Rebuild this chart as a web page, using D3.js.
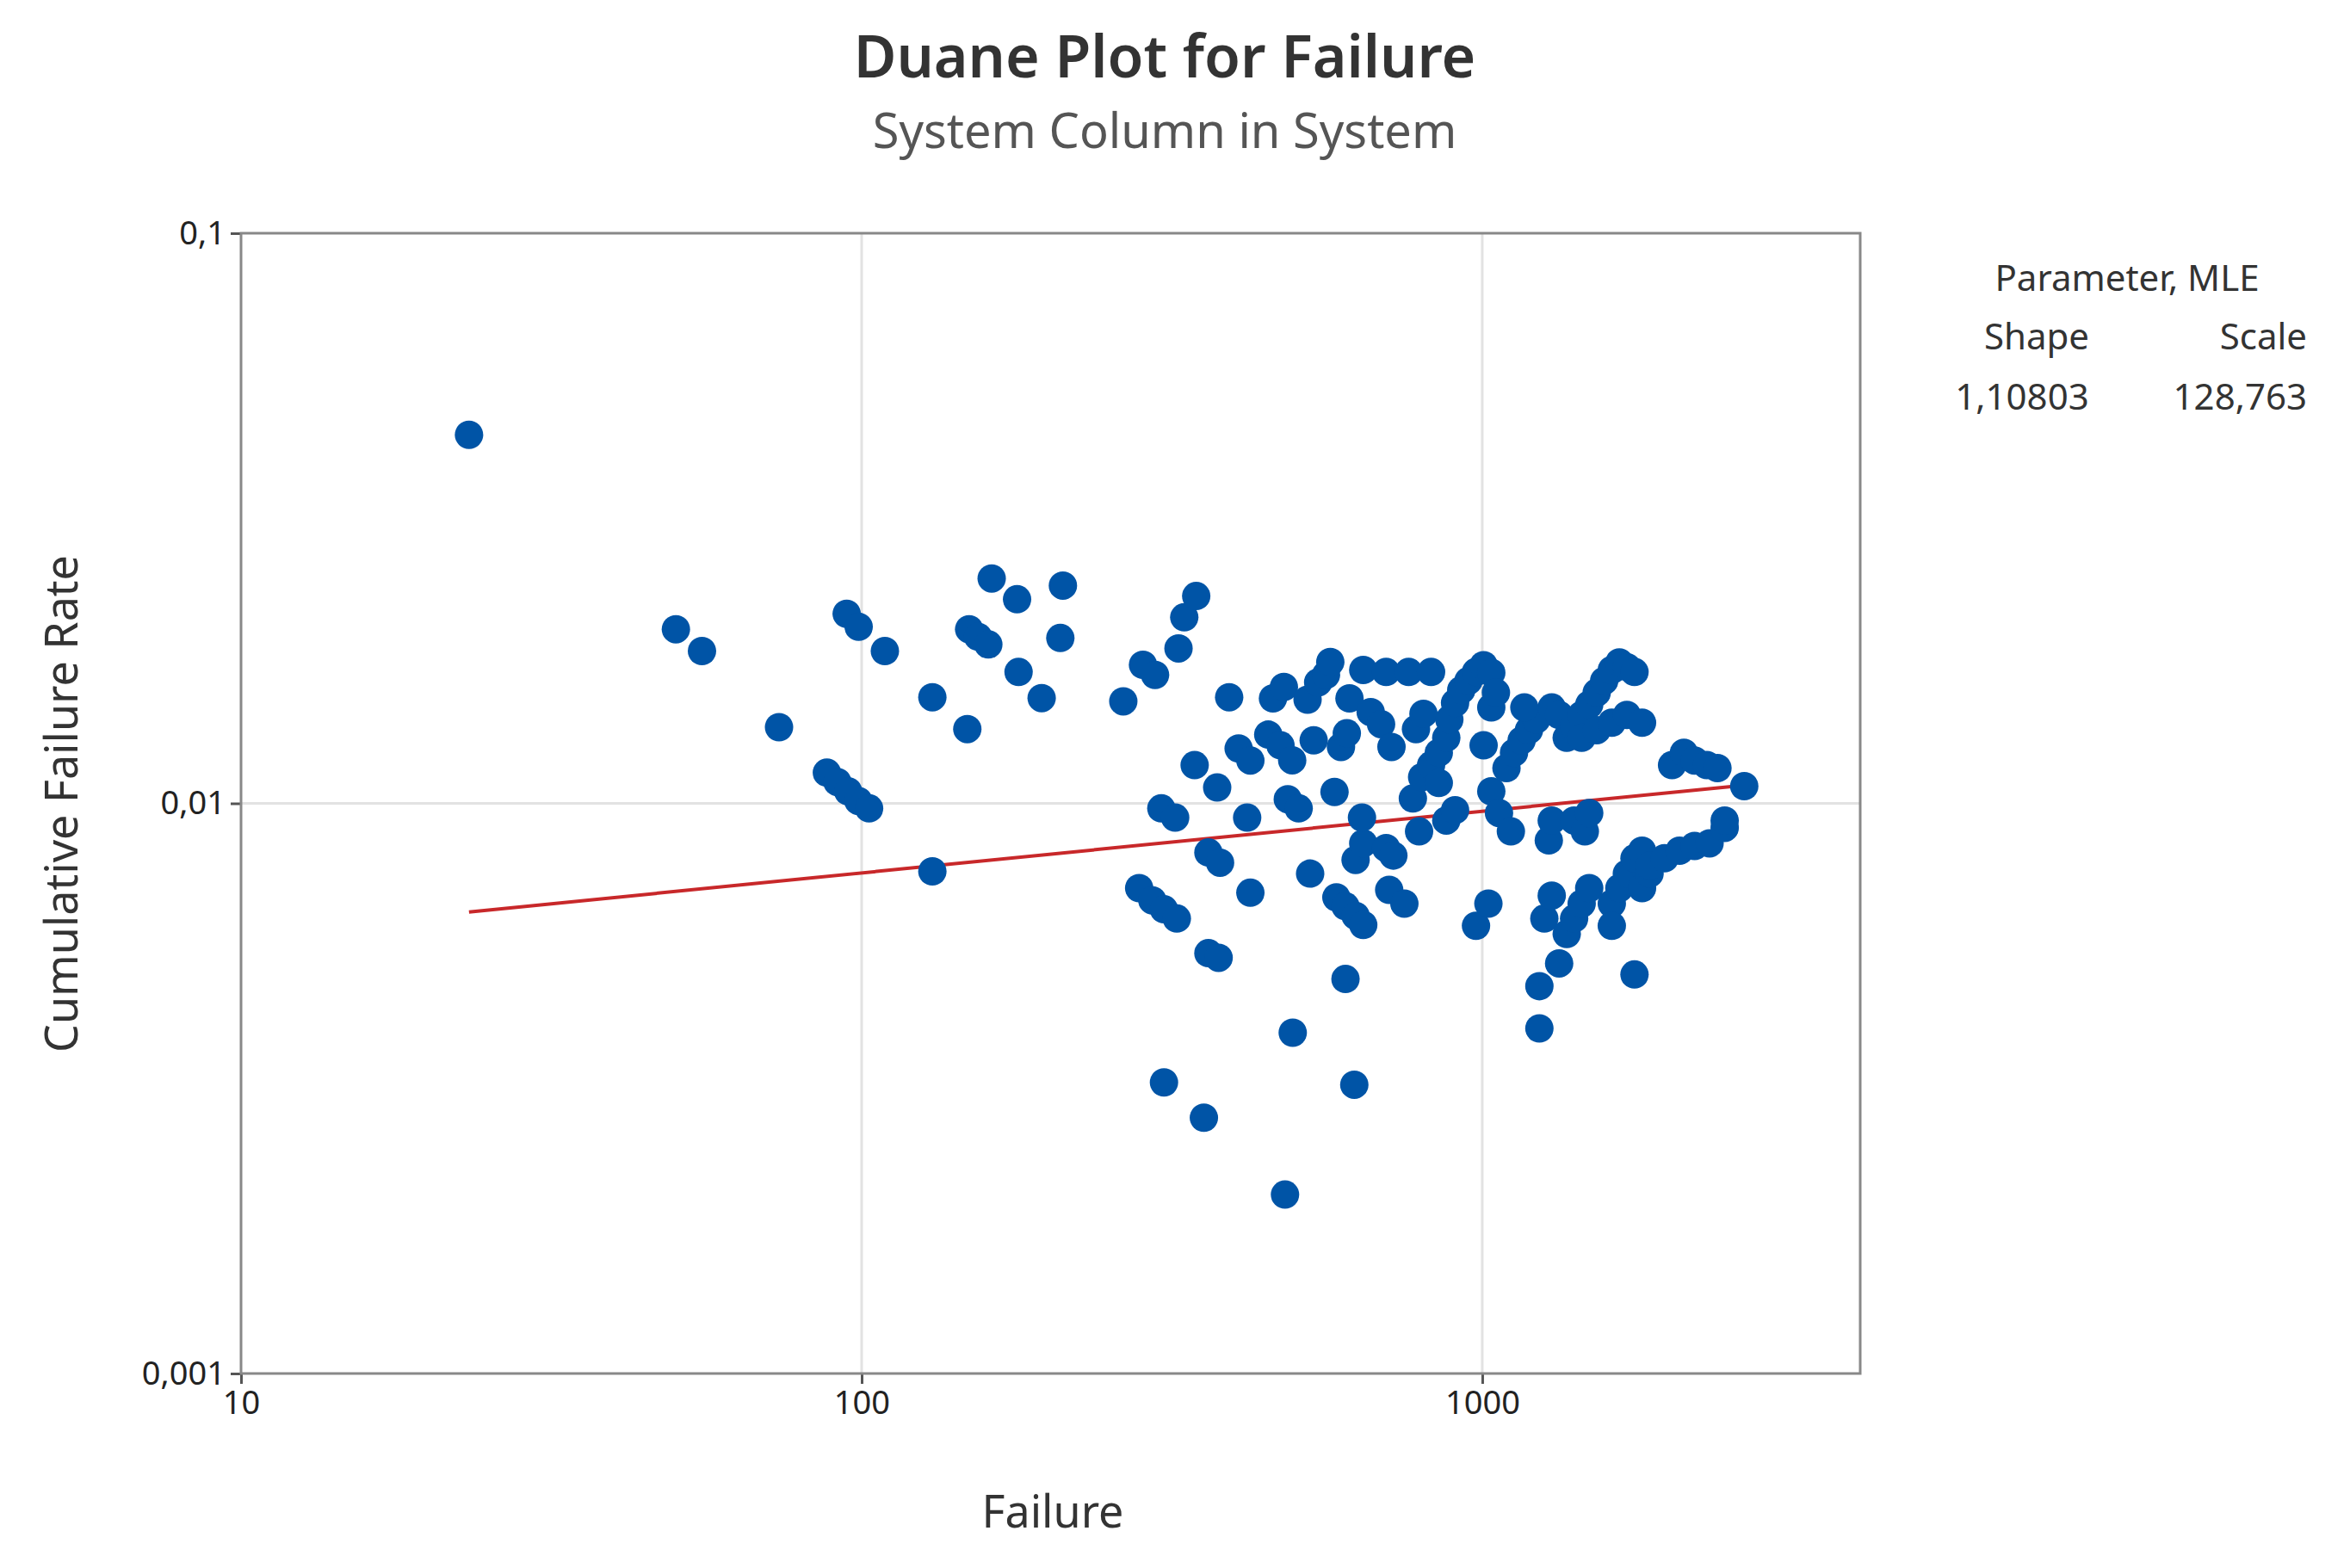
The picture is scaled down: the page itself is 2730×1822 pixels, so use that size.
<!DOCTYPE html>
<html><head><meta charset="utf-8">
<script src="https://cdn.jsdelivr.net/npm/d3@7"></script>
<style>body{margin:0;background:#fff}svg{display:block}text{font-family:"Noto Sans","Open Sans",sans-serif}</style>
</head><body>
<svg id="c" width="2730" height="1822"></svg>
<script>
const xTicks=[10,100,1000], xTickLabels=["10","100","1000"];
const yTicks=[0.1,0.01,0.001], yTickLabels=["0,1","0,01","0,001"];
const failTime=[23.3,50.2,55.3,73.6,87.9,91.4,95.1,98.8,102.8,94.6,98.9,109,130,130,148,149,154,160,162,178,179,195,211,209,264,284,297,324,331,346,280,294,307,322,304,320,307,356,362,376,344,374,362,378,391,405,423,418,423,452,473,481,495,486,506,460,479,494,528,535,523,544,560,569,592,605,578,582,602,625,643,602,622,611,625,643,640,643,661,687,700,761,827,714,700,719,708,749,782,804,773,800,827,791,851,875,885,904,925,851,875,904,950,977,1005,1034,977,1023,1005,1034,1052,1034,1064,1112,1094,1125,1157,1189,1222,1294,1330,1169,1236,1236,1259,1294,1280,1294,1330,1368,1406,1446,1487,1406,1463,1487,1368,1406,1446,1487,1529,1572,1617,1663,1710,1759,1446,1529,1617,1710,1809,1617,1663,1710,1759,1809,1617,1759,1809,1860,1860,1966,2079,2198,2324,2458,2458,2022,2113,2198,2300,2393,2643];
const cumRate=[0.0443,0.0202,0.0185,0.0136,0.01132,0.0109,0.0105,0.0101,0.0098,0.0215,0.0204,0.0185,0.0076,0.01535,0.0135,0.0202,0.0196,0.019,0.0248,0.0228,0.017,0.0153,0.0241,0.0195,0.0151,0.0175,0.0168,0.0187,0.0212,0.0231,0.0071,0.00676,0.00652,0.00628,0.0098,0.00944,0.00324,0.00281,0.00546,0.00536,0.01167,0.01066,0.0082,0.00787,0.01535,0.01248,0.01189,0.00944,0.00697,0.0132,0.01264,0.00206,0.00396,0.01017,0.0098,0.01528,0.016,0.0119,0.00753,0.0129,0.0152,0.0163,0.0168,0.0177,0.01256,0.01327,0.01047,0.00684,0.0066,0.00635,0.00612,0.00492,0.00321,0.01528,0.00796,0.00851,0.00944,0.01714,0.01446,0.01377,0.017,0.017,0.017,0.01256,0.00835,0.0081,0.00705,0.00667,0.0135,0.01436,0.0102,0.01112,0.01167,0.00893,0.01227,0.01303,0.01403,0.015,0.0158,0.01086,0.00933,0.00973,0.0164,0.017,0.01747,0.01695,0.0061,0.00667,0.01264,0.01473,0.01564,0.0105,0.00962,0.00893,0.01153,0.01227,0.01289,0.01344,0.01403,0.01473,0.01429,0.01473,0.00478,0.00403,0.00628,0.00689,0.00861,0.00933,0.00524,0.0059,0.00628,0.00667,0.0071,0.00933,0.00893,0.00962,0.01303,0.01367,0.01429,0.0149,0.01564,0.0164,0.01714,0.01767,0.01734,0.017,0.01303,0.01344,0.01385,0.01429,0.01385,0.00667,0.0071,0.00753,0.00801,0.00826,0.0061,0.00501,0.0071,0.00753,0.00777,0.00801,0.00826,0.00842,0.00851,0.00906,0.00933,0.01167,0.01227,0.01189,0.01167,0.01153,0.01072];
const fitTime=[23.3,2643], fitRate=[0.00645,0.01076];
const paramLabels=["Shape","Scale"], paramValues=["1,10803","128,763"];

const svg=d3.select("#c");
const L=280,R=2161,T=271,B=1596;
const x=d3.scaleLog().domain([10,4064]).range([L,R]);
const y=d3.scaleLog().domain([0.001,0.1]).range([B,T]);

svg.append("text").attr("x",1353).attr("y",90).attr("text-anchor","middle").attr("font-size",68).attr("font-weight",600).attr("fill","#333").text("Duane Plot for Failure");
svg.append("text").attr("x",1353).attr("y",172).attr("text-anchor","middle").attr("font-size",56).attr("fill","#555").text("System Column in System");

const g=svg.append("g");
g.selectAll(".gx").data([100,1000]).join("line").attr("x1",d=>x(d)).attr("x2",d=>x(d)).attr("y1",T).attr("y2",B).attr("stroke","#e2e2e2").attr("stroke-width",3);
g.selectAll(".gy").data([0.01]).join("line").attr("y1",d=>y(d)).attr("y2",d=>y(d)).attr("x1",L).attr("x2",R).attr("stroke","#e2e2e2").attr("stroke-width",3);

const xa=svg.append("g").attr("transform",`translate(0,${B})`).call(d3.axisBottom(x).tickValues(xTicks).tickFormat((d,i)=>xTickLabels[i]).tickSize(12).tickPadding(8));
const ya=svg.append("g").attr("transform",`translate(${L},0)`).call(d3.axisLeft(y).tickValues(yTicks).tickFormat((d,i)=>yTickLabels[i]).tickSize(12).tickPadding(6));
[xa,ya].forEach(a=>{a.select(".domain").remove();a.selectAll("line").attr("stroke","#555").attr("stroke-width",3);a.selectAll("text").attr("font-size",38).attr("fill","#222").attr("font-family","Noto Sans");});

svg.append("rect").attr("x",L).attr("y",T).attr("width",R-L).attr("height",B-T).attr("fill","none").attr("stroke","#888").attr("stroke-width",3);

svg.append("path").datum(fitTime.map((t,i)=>[t,fitRate[i]])).attr("d",d3.line().x(d=>x(d[0])).y(d=>y(d[1]))).attr("stroke","#c8282a").attr("stroke-width",4).attr("fill","none");

svg.append("g").selectAll("circle").data(failTime.map((t,i)=>[t,cumRate[i]])).join("circle")
 .attr("cx",d=>x(d[0])).attr("cy",d=>y(d[1])).attr("r",16.5).attr("fill","#0054a6");

svg.append("text").attr("transform","translate(90,934) rotate(-90)").attr("text-anchor","middle").attr("font-size",52).attr("fill","#333").text("Cumulative Failure Rate");
svg.append("text").attr("x",1223).attr("y",1775).attr("text-anchor","middle").attr("font-size",52).attr("fill","#333").text("Failure");

svg.append("text").attr("x",2471).attr("y",338).attr("text-anchor","middle").attr("font-size",42).attr("fill","#333").text("Parameter, MLE");
svg.append("text").attr("x",2366).attr("y",406).attr("text-anchor","middle").attr("font-size",42).attr("fill","#333").text(paramLabels[0]);
svg.append("text").attr("x",2680).attr("y",406).attr("text-anchor","end").attr("font-size",42).attr("fill","#333").text(paramLabels[1]);
svg.append("text").attr("x",2349).attr("y",476).attr("text-anchor","middle").attr("font-size",42).attr("fill","#333").text(paramValues[0]);
svg.append("text").attr("x",2680).attr("y",476).attr("text-anchor","end").attr("font-size",42).attr("fill","#333").text(paramValues[1]);
</script>
</body></html>
